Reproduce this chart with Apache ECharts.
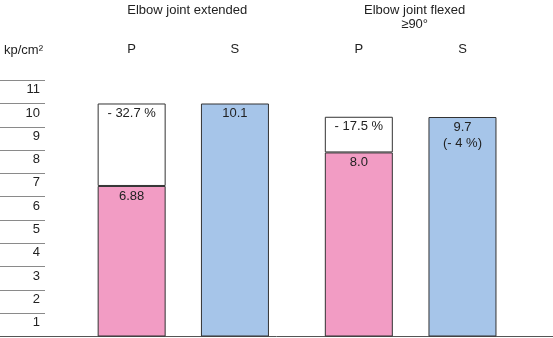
<!DOCTYPE html>
<html>
<head>
<meta charset="utf-8">
<style>
html,body{margin:0;padding:0;background:#fff;}
#chart{width:553px;height:338px;}
</style>
<script src="https://cdn.jsdelivr.net/npm/echarts@6/dist/echarts.min.js"></script>
</head>
<body>
<div id="chart"></div>
<script>
// ---- data ----
const categories = ['P', 'S'];
const groupTitles = ['Elbow joint extended', 'Elbow joint flexed\n≥90°'];
const yTicks = [1, 2, 3, 4, 5, 6, 7, 8, 9, 10, 11];
const unitLabel = 'kp/cm²';
// drawn heights
const pHeights = [6.46, 7.9];
const pBoxTops = [10.0, 9.43];
const sHeights = [10.0, 9.42];
// printed values
const pLabels = ['6.88', '8.0'];
const deltaLabels = ['- 32.7 %', '- 17.5 %'];
const sLabels = ['10.1', '9.7\n(- 4 %)'];

const FONT = 'Liberation Sans, Arial, sans-serif';
const PINK = '#F29CC4';
const BLUE = '#A6C5E9';
const EDGE = '#333';
const TXT = '#222';
const BASE_Y = 336.5;
const UNIT = 23.3;
const YMAX = 11;
const gridTop = BASE_Y - YMAX * UNIT;
const gridBottom = 338 - BASE_Y;

const groupGrids = [
  {left: 80, width: 206.6},
  {left: 307, width: 207.3}
];
const titleShift = 4;

const grids = [
  {left: 0, width: 45, top: gridTop, bottom: gridBottom},
  ...groupGrids.map(g => ({left: g.left, width: g.width, top: gridTop, bottom: gridBottom})),
  {left: 0, right: 0, top: gridTop, bottom: gridBottom}
];

const xAxes = [
  {gridIndex: 0, type: 'category', data: [''], show: false},
  ...groupGrids.map((g, i) => ({
    gridIndex: i + 1, type: 'category', data: categories, position: 'top',
    axisLine: {show: false}, axisTick: {show: false},
    axisLabel: {margin: 24, fontFamily: FONT, fontSize: 13, color: TXT}
  })),
  {gridIndex: 3, type: 'value', min: 0, max: 1, position: 'bottom',
   axisLine: {show: true, lineStyle: {color: '#555', width: 1}},
   axisTick: {show: false}, axisLabel: {show: false}, splitLine: {show: false}}
];

const yAxes = [
  {gridIndex: 0, type: 'value', min: 0, max: YMAX, interval: 1, position: 'right',
   axisLine: {show: false}, axisTick: {show: false},
   splitLine: {show: true, lineStyle: {color: '#8a8a8a', width: 1}},
   axisLabel: {inside: true, margin: 5, verticalAlign: 'top', padding: [3, 0, 0, 0],
     fontFamily: FONT, fontSize: 13, color: TXT, showMinLabel: false,
     formatter: v => yTicks.includes(v) ? String(v) : ''}},
  ...groupGrids.map((g, i) => ({gridIndex: i + 1, type: 'value', min: 0, max: YMAX, show: false})),
  {gridIndex: 3, type: 'value', min: 0, max: 1, show: false}
];

const lbl = (textArr, i) => ({
  show: true, position: 'insideTop', distance: 2, color: TXT,
  fontFamily: FONT, fontSize: 13, lineHeight: 16,
  formatter: () => textArr[i]
});

const series = [];
groupGrids.forEach((g, i) => {
  const common = {type: 'bar', stack: 'g' + i, xAxisIndex: i + 1, yAxisIndex: i + 1,
    barWidth: 68, silent: true, animation: false};
  series.push({...common, name: 'P' + i, data: [pHeights[i], '-'],
    itemStyle: {color: PINK, borderColor: EDGE, borderWidth: 1}, label: lbl(pLabels, i)});
  series.push({...common, name: 'd' + i, data: [+(pBoxTops[i] - pHeights[i]).toFixed(3), '-'],
    itemStyle: {color: '#fff', borderColor: EDGE, borderWidth: 1}, label: lbl(deltaLabels, i)});
  series.push({...common, name: 'S' + i, data: ['-', sHeights[i]],
    itemStyle: {color: BLUE, borderColor: EDGE, borderWidth: 1}, label: lbl(sLabels, i)});
});

const graphics = groupGrids.map((g, i) => ({
  type: 'text', x: g.left + g.width / 2 + titleShift, y: 3,
  style: {text: groupTitles[i], fill: TXT, font: '13px ' + FONT, textAlign: 'center',
    textVerticalAlign: 'top', lineHeight: 14}
}));
graphics.push({type: 'text', x: 4, y: 50,
  style: {text: unitLabel, fill: TXT, font: '13px ' + FONT, textAlign: 'left', textVerticalAlign: 'middle'}});

const chart = echarts.init(document.getElementById('chart'), null, {renderer: 'canvas'});
chart.setOption({
  animation: false,
  grid: grids, xAxis: xAxes, yAxis: yAxes, series: series, graphic: graphics
});
</script>
</body>
</html>
